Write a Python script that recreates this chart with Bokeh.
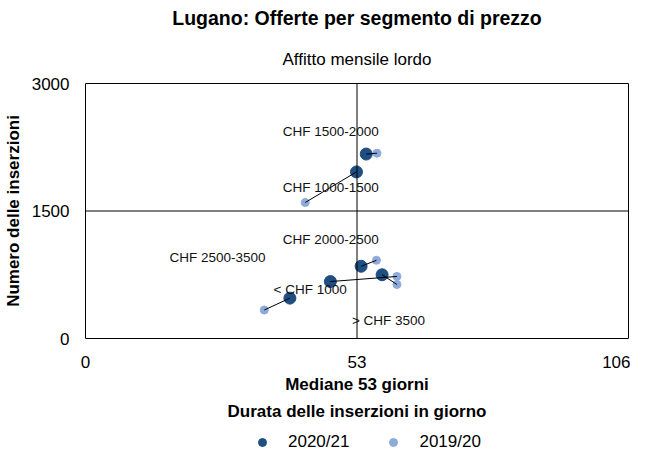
from bokeh.plotting import figure
from bokeh.models import Span, Title, Legend, LegendItem, FixedTicker
from bokeh.embed import file_html
from bokeh.resources import INLINE
from bokeh.core.properties import value

# ---- data ----
segments = ["< CHF 1000", "CHF 1000-1500", "CHF 1500-2000",
            "CHF 2000-2500", "CHF 2500-3500", "> CHF 3500"]
days_2021 = [39.9, 52.9, 54.8, 53.8, 47.8, 57.9]
count_2021 = [475, 1960, 2170, 850, 670, 750]
days_1920 = [34.9, 42.9, 56.9, 56.8, 60.8, 60.8]
count_1920 = [335, 1600, 2180, 920, 730, 635]

# anchor of each segment's text label (data units)
label_x = [36.7, 38.5, 38.5, 38.5, 16.4, 52.0]
label_y = [571, 1774, 2440, 1167, 952, 214]

median_days = 53
median_count = 1500
x_ticks = [0, 53, 106]
y_ticks = [0, 1500, 3000]
series_names = ["2020/21", "2019/20"]

FONT = "Liberation Sans"
DARK = "#1f4e82"
LIGHT = "#8eaadb"

p = figure(width=630, height=426, x_range=(0, 106), y_range=(0, 3000),
           output_backend="svg", toolbar_location=None, title=None,
           min_border_left=80, min_border_right=2, min_border_top=78,
           min_border_bottom=88)

p.background_fill_color = "white"
p.border_fill_color = "white"
p.outline_line_color = "black"
p.outline_line_width = 1
p.outline_line_alpha = 1
p.xgrid.visible = False
p.ygrid.visible = False

# median lines
p.add_layout(Span(location=median_days, dimension="height", line_color="black", line_width=1))
p.add_layout(Span(location=median_count, dimension="width", line_color="black", line_width=1))

r_new = p.scatter(days_2021, count_2021, size=12, color=DARK, line_color=DARK)
r_old = p.scatter(days_1920, count_1920, size=8, color=LIGHT, line_color=LIGHT)
p.segment(x0=days_2021, y0=count_2021, x1=days_1920, y1=count_1920,
          line_color="black", line_width=1)

p.text(x=label_x, y=label_y, text=segments, text_font=value(FONT),
       text_font_size="13.5px", text_baseline="middle", text_align="left",
       text_color="#111111")

for ax in (p.xaxis[0], p.yaxis[0]):
    ax.axis_line_color = None
    ax.major_tick_line_color = None
    ax.minor_tick_line_color = None
    ax.major_tick_out = 0
    ax.major_tick_in = 0
    ax.minor_tick_out = 0
    ax.minor_tick_in = 0
    ax.major_label_text_font = FONT
    ax.major_label_text_font_size = "17px"
    ax.major_label_text_color = "black"
    ax.axis_label_text_font = FONT
    ax.axis_label_text_font_size = "17px"
    ax.axis_label_text_font_style = "bold"
    ax.axis_label_text_color = "black"

p.xaxis.ticker = FixedTicker(ticks=x_ticks)
p.yaxis.ticker = FixedTicker(ticks=y_ticks)
p.xaxis.major_label_standoff = 17
p.yaxis.major_label_standoff = 16
p.xaxis.axis_label = "Mediane 53 giorni\nDurata delle inserzioni in giorno"
p.yaxis.axis_label = "Numero delle inserzioni"
p.xaxis.axis_label_text_line_height = 1.45
p.xaxis.axis_label_standoff = 4
p.yaxis.axis_label_standoff = 6

sub = Title(text="Affitto mensile lordo", align="center", text_font=FONT,
            text_font_size="17px", text_font_style="normal",
            text_color="black", standoff=29)
main = Title(text="Lugano: Offerte per segmento di prezzo", align="center",
             text_font=FONT, text_font_size="19.5px", text_font_style="bold",
             text_color="black", standoff=9)
p.add_layout(sub, "above")
p.add_layout(main, "above")

# ---- legend strip below the chart (its renderers draw the same series,
#      out of this strip's view, so only the legend is visible) ----
lg = figure(width=630, height=26, x_range=(0, 1), y_range=(0, 1),
            output_backend="svg", toolbar_location=None, title=None,
            min_border=0, min_border_left=0, min_border_right=0,
            min_border_top=0, min_border_bottom=0)
lg.axis.visible = False
lg.xgrid.visible = False
lg.ygrid.visible = False
lg.outline_line_color = None
lg.background_fill_color = "white"
lg.border_fill_color = "white"
d_new = lg.scatter(days_2021, count_2021, size=9, color=DARK, line_color=DARK)
d_old = lg.scatter(days_1920, count_1920, size=9, color=LIGHT, line_color=LIGHT)
legend = Legend(items=[LegendItem(label=series_names[0], renderers=[d_new]),
                       LegendItem(label=series_names[1], renderers=[d_old])],
                orientation="horizontal", location=(252, 0),
                label_text_font=FONT, label_text_font_size="17px",
                label_text_color="black",
                border_line_color=None, background_fill_alpha=0,
                spacing=34, label_standoff=16, padding=0, margin=0)
lg.add_layout(legend, "center")

open("out.html", "w").write(file_html([p, lg], INLINE))
